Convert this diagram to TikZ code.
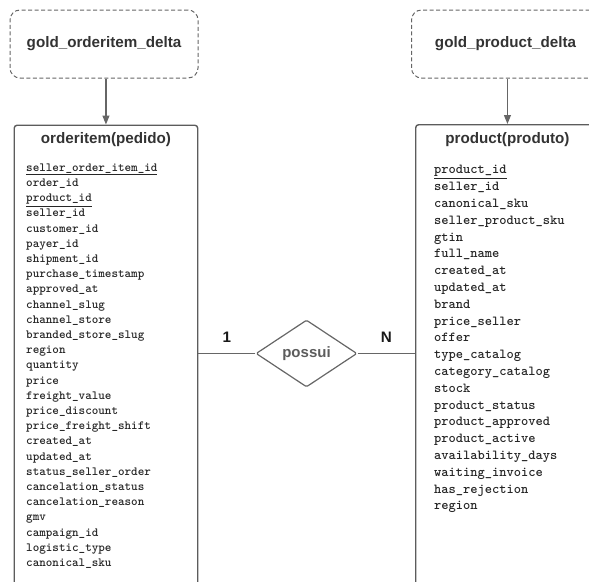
\documentclass[tikz,border=0pt]{standalone}
\usepackage{fontspec}
\setmainfont{Liberation Sans}
\usetikzlibrary{matrix,shapes.geometric,arrows.meta}
\definecolor{linegray}{HTML}{666666}
\definecolor{textgray}{HTML}{333333}
\tikzstyle{source} = [draw=linegray, line width=1pt, dash pattern=on 4pt off 2.5pt, rounded corners=10pt, minimum width=188pt, minimum height=68pt, inner sep=0pt, text=textgray, font=\bfseries\fontsize{15.2}{18}\selectfont]
\tikzstyle{entity} = [draw=linegray!90!black, line width=1.4pt, rounded corners=3pt, minimum width=183.5pt, minimum height=520pt, inner sep=0pt]
\tikzstyle{title} = [inner sep=0pt, text=textgray, font=\bfseries\fontsize{15.2}{18}\selectfont]
\tikzstyle{relation} = [diamond, draw=linegray, line width=1.2pt, rounded corners=1.5pt, minimum width=101pt, minimum height=67pt, inner sep=0pt, text=textgray!80!white, font=\bfseries\fontsize{15}{18}\selectfont]
\tikzstyle{link} = [draw=linegray, line width=0.9pt]
\tikzstyle{feed} = [draw=linegray, line width=1.1pt, -{Triangle[length=9pt, width=7pt]}]
\tikzstyle{card} = [inner sep=0pt, text=black!90, font=\bfseries\fontsize{15.2}{18}\selectfont]
\tikzstyle{fields} = [matrix of nodes, inner sep=0pt, nodes={anchor=base west, inner sep=0pt, text=black!85}]

\begin{document}
\begin{tikzpicture}[x=1pt, y=-1pt]
	\useasboundingbox (0,0) rectangle (589,581);
	\clip (0,0) rectangle (589,581);
	\node [source] (gold_oi) at (104,44) {gold\_orderitem\_delta};
	\node [source] (gold_pr) at (505.5,44) {gold\_product\_delta};
	\node [entity, anchor=north west] (orderitem) at (13.5,124.5) {};
	\node [entity, anchor=north west] (product) at (415,124) {};
	\node [title, anchor=base] (oi_title) at ([yshift=-19pt]orderitem.north) {orderitem(pedido)};
	\node [title, anchor=base] (pr_title) at ([yshift=-19.5pt]product.north) {product(produto)};
	\draw [feed] (gold_oi.south -| orderitem.north) -- (orderitem.north);
	\draw [feed] (gold_pr.south -| product.north) -- (product.north);
	\matrix (oi_fields) [fields, anchor=north west, row sep=4.2pt,
		nodes={font=\ttfamily\bfseries\fontsize{12.5}{14}\selectfont, text height=8pt, text depth=3pt}]
		at ([xshift=12.5pt, yshift=-38.5pt]orderitem.north west) {
			\underline{seller\_order\_item\_id} \\
			order\_id \\
			\underline{product\_id} \\
			seller\_id \\
			customer\_id \\
			payer\_id \\
			shipment\_id \\
			purchase\_timestamp \\
			approved\_at \\
			channel\_slug \\
			channel\_store \\
			branded\_store\_slug \\
			region \\
			quantity \\
			price \\
			freight\_value \\
			price\_discount \\
			price\_freight\_shift \\
			created\_at \\
			updated\_at \\
			status\_seller\_order \\
			cancelation\_status \\
			cancelation\_reason \\
			gmv \\
			campaign\_id \\
			logistic\_type \\
			canonical\_sku \\
		};
	\matrix (pr_fields) [fields, anchor=north west, row sep=4.6pt,
		nodes={font=\ttfamily\bfseries\fontsize{13.8}{16}\selectfont, text height=9pt, text depth=3.2pt}]
		at ([xshift=19pt, yshift=-40.7pt]product.north west) {
			\underline{product\_id} \\
			seller\_id \\
			canonical\_sku \\
			seller\_product\_sku \\
			gtin \\
			full\_name \\
			created\_at \\
			updated\_at \\
			brand \\
			price\_seller \\
			offer \\
			type\_catalog \\
			category\_catalog \\
			stock \\
			product\_status \\
			product\_approved \\
			product\_active \\
			availability\_days \\
			waiting\_invoice \\
			has\_rejection \\
			region \\
		};
	\node [relation] (possui) at (306.5,353.5) {possui};
	\draw [link] (possui.west) -- (possui.west -| orderitem.east) node [card, midway, above=10.5pt] {1};
	\draw [link] (possui.east) -- (possui.east -| product.west) node [card, midway, above=10.5pt] {N};
\end{tikzpicture}
\end{document}
